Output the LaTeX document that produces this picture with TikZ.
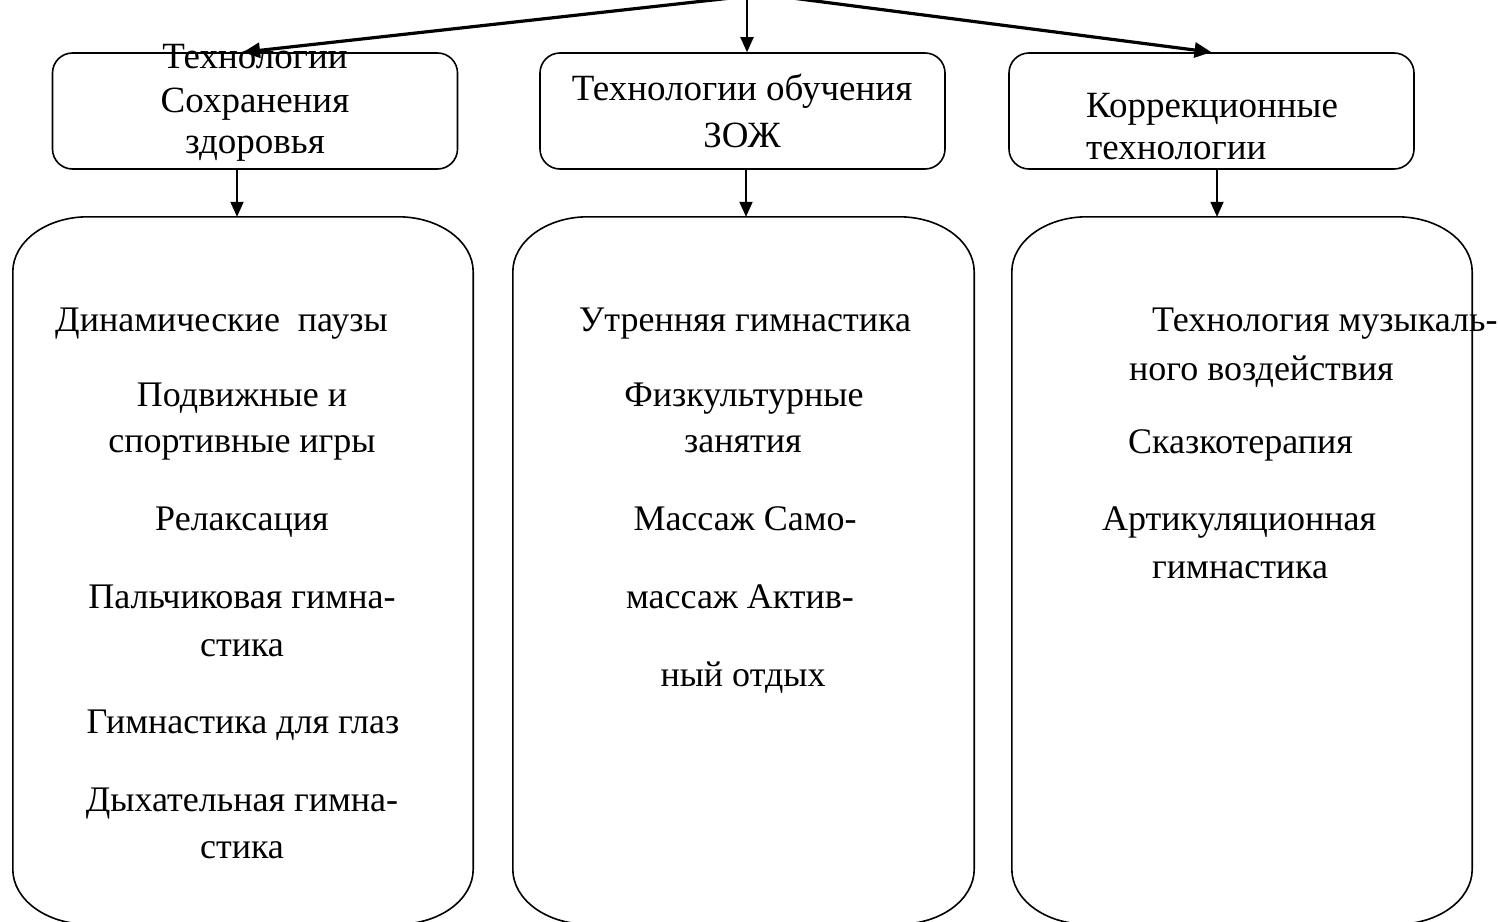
\documentclass[tikz,border=0pt]{standalone}
\usepackage{fontspec}
\setmainfont{Liberation Serif}
\usetikzlibrary{arrows.meta,calc}
\newcommand\roundpanel[1]{%
  \draw[panelline] ([yshift=-55pt]#1.north west)
    arc[start angle=180,end angle=90,x radius=75pt,y radius=55pt]
    -- ([xshift=-75pt]#1.north east)
    arc[start angle=90,end angle=0,x radius=75pt,y radius=55pt]
    -- ([yshift=55pt]#1.south east)
    arc[start angle=0,end angle=-90,x radius=75pt,y radius=55pt]
    -- ([xshift=75pt]#1.south west)
    arc[start angle=-90,end angle=-180,x radius=75pt,y radius=55pt]
    -- cycle;}
\begin{document}
\begin{tikzpicture}[x=1pt,y=-1pt,
  topbox/.style={draw,line width=1.6pt,rounded corners=20pt,minimum width=405pt,minimum height=116pt,inner sep=0pt},
  panelbox/.style={minimum height=707pt,inner sep=0pt},
  panelline/.style={line width=1.6pt},
  txt/.style={inner sep=0pt,font=\fontsize{36}{40}\selectfont},
  toptxt/.style={inner sep=0pt,font=\fontsize{37}{40}\selectfont},
  bigarrow/.style={line width=3.2pt,-{Triangle[length=17pt,width=15pt]}},
  smallarrow/.style={line width=1.9pt,-{Triangle[length=15pt,width=13pt]}}]
\useasboundingbox (0,0) rectangle (1498,921);
% top boxes
\node[topbox] (b1) at (255,111) {};
\node[topbox] (b2) at (742.5,111) {};
\node[topbox] (b3) at (1211.5,111) {};
% source points of the cut-off heading
\coordinate (s1) at (731,-2);
\coordinate (s2) at (747,-2);
\coordinate (s3) at (792,-2);
% panels
\node[panelbox,minimum width=460pt] (p1) at (243,570.5) {};
\node[panelbox,minimum width=461pt] (p2) at (743.5,570.5) {};
\node[panelbox,minimum width=460pt] (p3) at (1242,570.5) {};
\roundpanel{p1}
\roundpanel{p2}
\roundpanel{p3}
% arrows from the heading
\draw[bigarrow] (s1) -- ($(b1.north)+(-12,0)$);
\draw[smallarrow] (s2) -- ($(b2.north)+(4.5,0)$);
\draw[bigarrow] (s3) -- (b3.north);
% arrows from boxes to panels
\coordinate (d1) at ($(b1.south)+(-18,0)$);
\coordinate (d2) at ($(b2.south)+(3.5,0)$);
\coordinate (d3) at ($(b3.south)+(5.5,0)$);
\draw[smallarrow] (d1) -- (d1 |- p1.north);
\draw[smallarrow] (d2) -- (d2 |- p2.north);
\draw[smallarrow] (d3) -- (d3 |- p3.north);
% top box texts
\node[toptxt,anchor=base] (t1a) at (255,68) {Технологии};
\node[toptxt,anchor=base] (t1b) at (255,112) {Сохранения};
\node[toptxt,anchor=base] (t1c) at (255,153) {здоровья};
\node[toptxt,anchor=base] (t2a) at (742,100) {Технологии обучения};
\node[toptxt,anchor=base] (t2b) at (742,147) {ЗОЖ};
\node[toptxt,anchor=base west] (t3a) at (1086,117) {Коррекционные};
\node[toptxt,anchor=base west] (t3b) at (1086,159) {технологии};
% panel 1 texts
\node[txt,anchor=base west] (a1) at (55,331) {Динамические\ \ паузы};
\node[txt,anchor=base] (a2) at (242,406) {Подвижные и};
\node[txt,anchor=base] (a3) at (242,452) {спортивные игры};
\node[txt,anchor=base] (a4) at (242,530) {Релаксация};
\node[txt,anchor=base] (a5) at (242,608) {Пальчиковая гимна-};
\node[txt,anchor=base] (a6) at (242,656) {стика};
\node[txt,anchor=base] (a7) at (243,733) {Гимнастика для глаз};
\node[txt,anchor=base] (a8) at (242,811) {Дыхательная гимна-};
\node[txt,anchor=base] (a9) at (242,858) {стика};
% panel 2 texts
\node[txt,anchor=base] (c1) at (745,331) {Утренняя гимнастика};
\node[txt,anchor=base] (c2) at (744,406) {Физкультурные};
\node[txt,anchor=base] (c3) at (743,452) {занятия};
\node[txt,anchor=base] (c4) at (745,530) {Массаж Само-};
\node[txt,anchor=base] (c5) at (740,608) {массаж Актив-};
\node[txt,anchor=base] (c6) at (743,686) {ный отдых};
% panel 3 texts
\node[txt,anchor=base west] (e1) at (1152,331) {Технология музыкаль-};
\node[txt,anchor=base west] (e2) at (1129,380) {ного воздействия};
\node[txt,anchor=base west] (e3) at (1128,453) {Сказкотерапия};
\node[txt,anchor=base west] (e4) at (1102,530) {Артикуляционная};
\node[txt,anchor=base west] (e5) at (1152,578) {гимнастика};
\end{tikzpicture}
\end{document}
